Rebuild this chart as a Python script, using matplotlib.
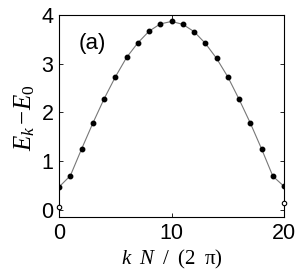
import matplotlib
matplotlib.use('Agg')
import matplotlib.pyplot as plt

plt.rcParams['font.family'] = ['Liberation Sans', 'DejaVu Sans']
plt.rcParams['mathtext.fontset'] = 'custom'
plt.rcParams['mathtext.it'] = 'Liberation Serif:italic'
plt.rcParams['mathtext.rm'] = 'Liberation Serif'

# excitation energies
k = list(range(21))
energy = [0.47, 0.70, 1.25, 1.78, 2.28, 2.73, 3.13, 3.43, 3.67, 3.82, 3.87,
          3.81, 3.66, 3.42, 3.11, 2.73, 2.27, 1.78, 1.25, 0.69, 0.48]
# open circles at the edges
k_open = [0, 20]
energy_open = [0.05, 0.14]

fig = plt.figure(figsize=(3.0, 2.7), dpi=100)
ax = fig.add_axes([0.197, 0.196, 0.75, 0.748])

ax.plot(k, energy, '-', color='#777777', lw=0.8, zorder=2)
ax.plot(k, energy, 'o', color='black', ms=3.2, zorder=3)
ax.plot(k_open, energy_open, 'o', mfc='white', mec='black', mew=0.8, ms=3.2,
        clip_on=False, zorder=4)

ax.set_xlim(0, 20)
ax.set_ylim(-0.15, 4)
ax.set_xticks([0, 10, 20])
ax.set_yticks([0, 1, 2, 3, 4])
ax.tick_params(direction='in', top=True, right=True, labelsize=15.5,
               length=3, width=0.6, pad=4)
for s in ax.spines.values():
    s.set_linewidth(0.8)

ax.set_ylabel(r'$E_k\,\mathrm{-}E_0$', fontsize=18)
ax.yaxis.set_label_coords(-0.10, 0.49)
ax.set_xlabel(r'$k\;\ N\;\ /\;\ (2\;\ \mathrm{\pi})$', fontsize=15, labelpad=3)
ax.text(0.085, 0.83, '(a)', transform=ax.transAxes, fontsize=16)

fig.savefig('out.png', dpi=100)
